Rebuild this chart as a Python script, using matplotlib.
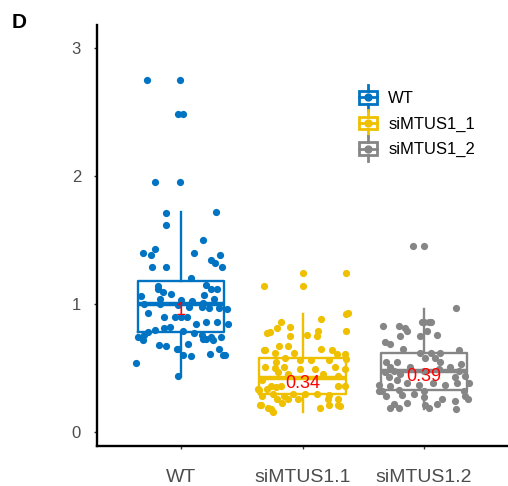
import matplotlib
matplotlib.use("Agg")
import matplotlib.pyplot as plt
from matplotlib.legend_handler import HandlerBase
from matplotlib.patches import Rectangle
from matplotlib.lines import Line2D

plt.rcParams['font.family'] = ['Liberation Sans', 'DejaVu Sans']

groups = ['WT', 'siMTUS1.1', 'siMTUS1.2']
legend_labels = ['WT', 'siMTUS1_1', 'siMTUS1_2']
colors = ['#0073C2', '#EFC000', '#868686']

# box summaries
q1 = [0.78, 0.30, 0.33]
med = [1.00, 0.42, 0.48]
q3 = [1.18, 0.58, 0.62]
whis_lo = [0.44, 0.16, 0.18]
whis_hi = [1.72, 0.92, 0.96]

# red annotations
ratio_text = ['1', '0.34', '0.39']
ratio_y = [0.95, 0.38, 0.43]

# jittered points: (x jitter, value)
wt_pts = [(-0.28, 2.75), (-0.01, 2.75), (-0.02, 2.48), (0.02, 2.48), (-0.21, 1.95), (-0.01, 1.95),
          (-0.12, 1.71), (0.29, 1.72), (-0.12, 1.62), (0.18, 1.50), (-0.31, 1.40), (-0.21, 1.43),
          (-0.25, 1.38), (0.11, 1.40), (0.32, 1.38), (0.25, 1.34), (0.28, 1.32), (-0.24, 1.29),
          (-0.12, 1.29), (0.34, 1.29), (0.08, 1.20), (-0.19, 1.14), (0.21, 1.15), (0.25, 1.12),
          (0.30, 1.12), (-0.19, 1.12), (-0.15, 1.09), (-0.08, 1.08), (-0.33, 1.06), (-0.17, 1.04),
          (0.00, 1.03), (0.09, 1.02), (0.18, 1.01), (0.27, 1.04), (0.19, 1.07), (0.38, 0.96),
          (-0.17, 1.00), (-0.02, 0.99), (0.07, 0.98), (0.17, 0.98), (0.23, 0.97), (0.31, 0.97),
          (-0.30, 1.00), (-0.27, 0.93), (-0.14, 0.90), (-0.05, 0.90), (0.05, 0.90), (-0.09, 0.82),
          (0.00, 0.90), (0.12, 0.84), (0.21, 0.86), (0.39, 0.84), (0.30, 0.86), (-0.27, 0.78),
          (-0.21, 0.80), (-0.14, 0.81), (0.02, 0.79), (0.11, 0.77), (0.17, 0.76), (0.25, 0.74),
          (-0.31, 0.72), (-0.18, 0.68), (-0.12, 0.67), (-0.03, 0.65), (0.06, 0.69), (0.18, 0.73),
          (0.26, 0.72), (0.33, 0.74), (-0.30, 0.76), (0.02, 0.60), (0.24, 0.61), (0.21, 0.73),
          (-0.02, 0.65), (-0.37, 0.54), (0.08, 0.59), (0.31, 0.65), (0.35, 0.60), (0.36, 0.60),
          (-0.35, 0.74), (-0.02, 0.44)]
si1_pts = [(0.00, 1.24), (0.36, 1.24), (0.00, 1.14), (-0.32, 1.14), (0.36, 0.92), (0.36, 0.79),
           (0.37, 0.93), (0.15, 0.88), (0.13, 0.79), (-0.18, 0.86), (-0.21, 0.81), (-0.29, 0.77),
           (-0.10, 0.82), (-0.10, 0.75), (0.04, 0.76), (0.12, 0.75), (-0.19, 0.67), (-0.12, 0.67),
           (-0.31, 0.64), (-0.23, 0.62), (-0.07, 0.62), (0.15, 0.65), (0.24, 0.64), (0.28, 0.61),
           (0.35, 0.61), (0.36, 0.57), (0.22, 0.56), (0.07, 0.56), (-0.02, 0.56), (-0.14, 0.58),
           (-0.22, 0.55), (0.27, 0.51), (0.35, 0.49), (-0.31, 0.51), (-0.23, 0.50), (-0.15, 0.51),
           (-0.20, 0.47), (-0.12, 0.45), (-0.02, 0.49), (0.10, 0.49), (0.17, 0.45), (0.29, 0.44),
           (-0.33, 0.41), (-0.26, 0.36), (-0.18, 0.36), (-0.37, 0.34), (-0.29, 0.34), (-0.22, 0.35),
           (0.29, 0.36), (0.35, 0.36), (-0.33, 0.28), (-0.24, 0.30), (-0.15, 0.28), (-0.08, 0.30),
           (0.02, 0.30), (0.12, 0.30), (0.22, 0.29), (-0.21, 0.26), (-0.12, 0.26), (-0.04, 0.26),
           (0.21, 0.26), (0.29, 0.26), (-0.35, 0.21), (-0.26, 0.18), (-0.17, 0.23), (0.14, 0.19),
           (0.22, 0.21), (0.31, 0.20), (-0.28, 0.19), (0.29, 0.21), (-0.27, 0.78), (-0.32, 0.64),
           (-0.36, 0.33), (-0.34, 0.21), (-0.24, 0.16)]
si2_pts = [(-0.09, 1.45), (0.00, 1.45), (0.26, 0.97), (-0.34, 0.83), (-0.21, 0.83), (-0.16, 0.81),
           (0.00, 0.86), (0.06, 0.86), (-0.14, 0.79), (-0.02, 0.86), (0.04, 0.86), (0.02, 0.79),
           (0.11, 0.76), (-0.20, 0.75), (-0.03, 0.75), (-0.32, 0.70), (-0.28, 0.69), (-0.17, 0.65),
           (-0.03, 0.62), (0.06, 0.62), (0.13, 0.62), (0.29, 0.64), (-0.31, 0.55), (-0.22, 0.55),
           (-0.28, 0.51), (0.01, 0.58), (0.09, 0.58), (0.13, 0.55), (0.21, 0.51), (0.30, 0.53),
           (-0.32, 0.47), (-0.25, 0.48), (-0.20, 0.45), (0.00, 0.48), (0.12, 0.49), (0.29, 0.48),
           (-0.29, 0.43), (-0.22, 0.41), (0.25, 0.43), (0.34, 0.44), (-0.37, 0.37), (-0.28, 0.36),
           (-0.14, 0.38), (-0.04, 0.37), (0.07, 0.38), (0.17, 0.37), (0.27, 0.38), (0.37, 0.38),
           (-0.35, 0.32), (-0.21, 0.33), (0.00, 0.32), (0.33, 0.32), (-0.31, 0.28), (-0.18, 0.29),
           (-0.08, 0.30), (0.00, 0.27), (0.15, 0.26), (0.25, 0.24), (0.36, 0.26), (-0.25, 0.22),
           (-0.14, 0.23), (0.01, 0.21), (-0.28, 0.19), (-0.21, 0.19), (0.04, 0.19), (0.26, 0.18),
           (0.11, 0.22), (-0.37, 0.32), (-0.12, 0.51), (0.34, 0.28)]
points = [wt_pts, si1_pts, si2_pts]


class BoxKey(HandlerBase):
    # little boxplot glyph like the ggplot legend key
    def create_artists(self, legend, orig_handle, xdescent, ydescent, width, height, fontsize, trans):
        c = orig_handle.get_color()
        cx = width / 2 - xdescent
        cy = height / 2 - ydescent
        bw, bh = width * 0.9, height * 0.7
        box = Rectangle((cx - bw / 2, cy - bh / 2), bw, bh, fill=False, ec=c, lw=2, transform=trans)
        top = Line2D([cx, cx], [cy + bh / 2, cy + height * 0.7], color=c, lw=2, transform=trans)
        bot = Line2D([cx, cx], [cy - bh / 2, cy - height * 0.7], color=c, lw=2, transform=trans)
        mid = Line2D([cx - bw / 2, cx + bw / 2], [cy, cy], color=c, lw=2, transform=trans)
        dot = Line2D([cx], [cy], marker='o', ms=5, color=c, transform=trans)
        return [box, top, bot, mid, dot]


fig = plt.figure(figsize=(5.08, 4.86), dpi=100)
ax = fig.add_axes([0.191, 0.082, 0.809, 0.867])

pos = [1, 2, 3]
stats = []
for i in range(3):
    stats.append(dict(med=med[i], q1=q1[i], q3=q3[i], whislo=whis_lo[i], whishi=whis_hi[i], fliers=[]))

for i in range(3):
    c = colors[i]
    ax.bxp([stats[i]], positions=[pos[i]], widths=0.71, showcaps=False, patch_artist=False,
           boxprops=dict(color=c, lw=1.7), whiskerprops=dict(color=c, lw=1.7),
           medianprops=dict(color=c, lw=3.2))
    xs = [pos[i] + p[0] for p in points[i]]
    ys = [p[1] for p in points[i]]
    ax.scatter(xs, ys, s=27, color=c, zorder=3, linewidths=0)
    ax.text(pos[i], ratio_y[i], ratio_text[i], color='red', fontsize=13, ha='center', va='center', zorder=4)

ax.set_xlim(0.31, 3.69)
ax.set_ylim(-0.11, 3.18)
ax.set_yticks([0, 1, 2, 3])
ax.set_xticks(pos)
ax.set_xticklabels(groups, fontsize=14, color='#4D4D4D')
ax.tick_params(axis='y', labelsize=12, labelcolor='#4D4D4D', length=2.5, width=1, color='#333333', pad=9)
ax.tick_params(axis='x', length=2.5, width=1, color='#333333', pad=14)
for s in ['top', 'right']:
    ax.spines[s].set_visible(False)
for s in ['left', 'bottom']:
    ax.spines[s].set_linewidth(1.7)
    ax.spines[s].set_color('black')

handles = [Line2D([], [], color=c) for c in colors]
ax.legend(handles, legend_labels, handler_map={Line2D: BoxKey()}, loc='upper left',
          bbox_to_anchor=(350 / 508, 1 - 80 / 486), bbox_transform=fig.transFigure,
          frameon=False, fontsize=12, handlelength=1.2, handleheight=1.3,
          handletextpad=0.6, labelspacing=0.45, borderpad=0)

fig.text(12 / 508, 1 - 23 / 486, 'D', fontsize=15, fontweight='bold', va='center', ha='left')

fig.savefig('out.png', dpi=100)
